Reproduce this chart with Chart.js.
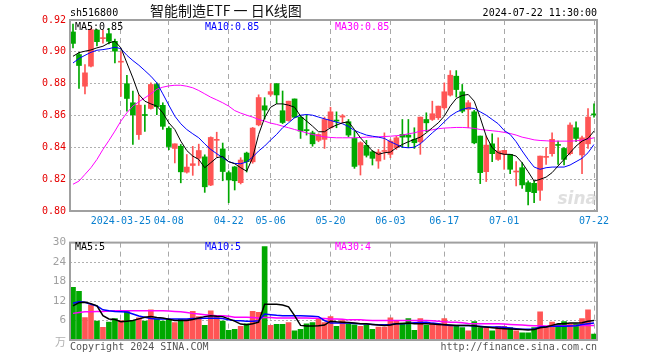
<!DOCTYPE html>
<html>
<head>
<meta charset="utf-8">
<script src="https://cdn.jsdelivr.net/npm/chart.js@4.4.1/dist/chart.umd.min.js"></script>
<style>
  html, body { margin: 0; padding: 0; background: #fff; }
  #wrap { position: relative; width: 660px; height: 360px; }
  #kChart { position: absolute; left: 0; top: 0; }
  #volChart { position: absolute; left: 0; top: 232px; }
</style>
</head>
<body>
<div id="wrap">
  <canvas id="kChart" width="660" height="232"></canvas>
  <canvas id="volChart" width="660" height="128"></canvas>
</div>
<script>
// trading days shown on the chart
const dates = [
  '2024-03-13','2024-03-14','2024-03-15','2024-03-18','2024-03-19','2024-03-20','2024-03-21','2024-03-22',
  '2024-03-25','2024-03-26','2024-03-27','2024-03-28','2024-03-29','2024-04-01','2024-04-02','2024-04-03',
  '2024-04-08','2024-04-09','2024-04-10','2024-04-11','2024-04-12','2024-04-15','2024-04-16','2024-04-17',
  '2024-04-18','2024-04-19','2024-04-22','2024-04-23','2024-04-24','2024-04-25','2024-04-26','2024-04-29',
  '2024-04-30','2024-05-06','2024-05-07','2024-05-08','2024-05-09','2024-05-10','2024-05-13','2024-05-14',
  '2024-05-15','2024-05-16','2024-05-17','2024-05-20','2024-05-21','2024-05-22','2024-05-23','2024-05-24',
  '2024-05-27','2024-05-28','2024-05-29','2024-05-30','2024-05-31','2024-06-03','2024-06-04','2024-06-05',
  '2024-06-06','2024-06-07','2024-06-11','2024-06-12','2024-06-13','2024-06-14','2024-06-17','2024-06-18',
  '2024-06-19','2024-06-20','2024-06-21','2024-06-24','2024-06-25','2024-06-26','2024-06-27','2024-06-28',
  '2024-07-01','2024-07-02','2024-07-03','2024-07-04','2024-07-05','2024-07-08','2024-07-09','2024-07-10',
  '2024-07-11','2024-07-12','2024-07-15','2024-07-16','2024-07-17','2024-07-18','2024-07-19','2024-07-22'
];
const tickDates = ['2024-03-25','2024-04-08','2024-04-22','2024-05-06','2024-05-20','2024-06-03','2024-06-17','2024-07-01','2024-07-22'];

const openP = [
  0.9125,0.8983,0.8784,0.8910,0.9137,0.9083,0.9114,0.9066,0.8935,0.8800,
  0.8680,0.8480,0.8603,0.8644,0.8795,0.8664,0.8520,0.8393,0.8407,0.8244,
  0.8286,0.8332,0.8340,0.8163,0.8444,0.8390,0.8241,0.8277,0.8178,0.8364,
  0.8309,0.8541,0.8661,0.8733,0.8800,0.8630,0.8568,0.8704,0.8589,0.8510,
  0.8491,0.8444,0.8450,0.8523,0.8568,0.8590,0.8561,0.8456,0.8289,0.8412,
  0.8372,0.8314,0.8374,0.8356,0.8398,0.8481,0.8477,0.8450,0.8435,0.8575,
  0.8575,0.8586,0.8648,0.8728,0.8847,0.8749,0.8638,0.8623,0.8471,0.8247,
  0.8422,0.8324,0.8356,0.8356,0.8245,0.8272,0.8178,0.8174,0.8130,0.8337,
  0.8360,0.8415,0.8393,0.8360,0.8523,0.8352,0.8422,0.8607
];
const closeP = [
  0.9053,0.8914,0.8868,0.9139,0.9064,0.9087,0.9066,0.9004,0.8940,0.8707,
  0.8605,0.8665,0.8600,0.8795,0.8655,0.8532,0.8405,0.8422,0.8246,0.8276,
  0.8297,0.8380,0.8152,0.8462,0.8450,0.8248,0.8195,0.8190,0.8320,0.8310,
  0.8521,0.8713,0.8634,0.8750,0.8729,0.8556,0.8690,0.8589,0.8502,0.8505,
  0.8422,0.8481,0.8575,0.8623,0.8565,0.8598,0.8477,0.8280,0.8429,0.8350,
  0.8331,0.8370,0.8377,0.8439,0.8460,0.8464,0.8464,0.8429,0.8590,0.8554,
  0.8611,0.8659,0.8749,0.8853,0.8763,0.8627,0.8680,0.8428,0.8241,0.8414,
  0.8360,0.8377,0.8381,0.8262,0.8249,0.8164,0.8122,0.8115,0.8345,0.8339,
  0.8450,0.8412,0.8324,0.8540,0.8456,0.8460,0.8590,0.8604
];
const highP = [
  0.9175,0.8995,0.8920,0.9150,0.9140,0.9137,0.9148,0.9080,0.9000,0.8853,
  0.8753,0.8730,0.8665,0.8805,0.8805,0.8680,0.8530,0.8422,0.8418,0.8355,
  0.8406,0.8420,0.8353,0.8466,0.8495,0.8427,0.8252,0.8280,0.8335,0.8370,
  0.8525,0.8730,0.8712,0.8800,0.8800,0.8754,0.8690,0.8704,0.8601,0.8606,
  0.8502,0.8485,0.8590,0.8652,0.8623,0.8606,0.8575,0.8502,0.8435,0.8444,
  0.8380,0.8387,0.8491,0.8450,0.8471,0.8575,0.8575,0.8523,0.8590,0.8617,
  0.8690,0.8659,0.8805,0.8882,0.8882,0.8795,0.8694,0.8632,0.8471,0.8471,
  0.8485,0.8460,0.8381,0.8356,0.8310,0.8304,0.8189,0.8189,0.8345,0.8398,
  0.8491,0.8439,0.8398,0.8554,0.8561,0.8471,0.8644,0.8673
];
const lowP = [
  0.9024,0.8770,0.8736,0.8905,0.9037,0.9055,0.9050,0.8930,0.8720,0.8627,
  0.8418,0.8450,0.8500,0.8640,0.8605,0.8513,0.8385,0.8302,0.8177,0.8238,
  0.8224,0.8286,0.8117,0.8159,0.8340,0.8190,0.8052,0.8132,0.8170,0.8245,
  0.8300,0.8535,0.8578,0.8723,0.8675,0.8549,0.8564,0.8585,0.8456,0.8477,
  0.8407,0.8435,0.8393,0.8519,0.8523,0.8554,0.8465,0.8268,0.8226,0.8339,
  0.8289,0.8268,0.8324,0.8335,0.8387,0.8398,0.8398,0.8393,0.8356,0.8498,
  0.8569,0.8575,0.8638,0.8722,0.8716,0.8617,0.8523,0.8422,0.8172,0.8185,
  0.8310,0.8318,0.8262,0.8235,0.8157,0.8142,0.8038,0.8053,0.8066,0.8293,
  0.8345,0.8293,0.8289,0.8352,0.8435,0.8235,0.8393,0.8590
];

const ma5 = [
  0.8972,0.8995,0.9004,0.9012,0.9025,0.9035,0.9056,0.9066,0.9025,0.8930,
  0.8836,0.8732,0.8690,0.8673,0.8659,0.8617,0.8554,0.8512,0.8439,0.8380,
  0.8345,0.8324,0.8272,0.8303,0.8335,0.8343,0.8310,0.8297,0.8272,0.8250,
  0.8335,0.8481,0.8586,0.8652,0.8673,0.8673,0.8665,0.8652,0.8596,0.8565,
  0.8533,0.8498,0.8498,0.8523,0.8540,0.8554,0.8560,0.8512,0.8460,0.8418,
  0.8377,0.8356,0.8366,0.8370,0.8397,0.8418,0.8435,0.8450,0.8464,0.8491,
  0.8523,0.8554,0.8596,0.8659,0.8707,0.8726,0.8732,0.8690,0.8586,0.8470,
  0.8397,0.8366,0.8356,0.8356,0.8345,0.8303,0.8247,0.8188,0.8199,0.8213,
  0.8241,0.8283,0.8324,0.8366,0.8408,0.8439,0.8456,0.8502
];
const ma10 = [
  0.8930,0.8958,0.8978,0.8997,0.9010,0.9014,0.9020,0.9029,0.9020,0.8978,
  0.8945,0.8916,0.8882,0.8847,0.8805,0.8736,0.8665,0.8596,0.8548,0.8512,
  0.8485,0.8460,0.8422,0.8387,0.8360,0.8335,0.8310,0.8299,0.8297,0.8308,
  0.8339,0.8377,0.8408,0.8446,0.8481,0.8523,0.8554,0.8586,0.8602,0.8606,
  0.8602,0.8590,0.8579,0.8569,0.8558,0.8548,0.8531,0.8506,0.8491,0.8477,
  0.8470,0.8464,0.8456,0.8435,0.8418,0.8401,0.8397,0.8401,0.8422,0.8456,
  0.8491,0.8523,0.8560,0.8596,0.8621,0.8638,0.8648,0.8644,0.8623,0.8602,
  0.8575,0.8548,0.8506,0.8481,0.8435,0.8377,0.8324,0.8276,0.8262,0.8272,
  0.8276,0.8276,0.8276,0.8289,0.8310,0.8331,0.8366,0.8418
];
const ma30 = [
  0.8168,0.8188,0.8230,0.8272,0.8324,0.8387,0.8443,0.8502,0.8565,0.8617,
  0.8659,0.8686,0.8711,0.8736,0.8765,0.8778,0.8786,0.8790,0.8790,0.8784,
  0.8774,0.8757,0.8736,0.8715,0.8698,0.8680,0.8659,0.8631,0.8615,0.8602,
  0.8590,0.8575,0.8565,0.8552,0.8544,0.8533,0.8523,0.8512,0.8502,0.8491,
  0.8481,0.8473,0.8466,0.8462,0.8460,0.8460,0.8460,0.8460,0.8462,0.8464,
  0.8464,0.8466,0.8468,0.8470,0.8473,0.8477,0.8485,0.8491,0.8502,0.8506,
  0.8510,0.8517,0.8521,0.8523,0.8525,0.8525,0.8523,0.8519,0.8512,0.8508,
  0.8504,0.8500,0.8494,0.8487,0.8477,0.8464,0.8456,0.8447,0.8443,0.8441,
  0.8439,0.8439,0.8439,0.8439,0.8441,0.8445,0.8452,0.8460
];

// volume, 万手
const volume = [
  16.2,15.0,6.9,10.8,5.8,3.9,5.5,6.6,6.0,8.8,
  6.0,6.8,5.8,9.3,6.4,5.8,6.4,5.4,6.4,6.4,
  8.8,7.2,4.5,9.0,7.4,5.8,3.0,3.3,4.2,5.0,
  8.8,8.5,28.8,4.5,4.8,4.8,5.4,2.8,3.3,5.0,
  5.4,6.5,5.4,7.2,4.2,6.0,5.0,4.7,4.2,4.7,
  3.3,4.0,4.0,6.8,6.0,5.2,6.6,3.0,6.6,4.5,
  5.0,5.0,6.6,4.5,4.2,3.8,2.8,5.7,3.8,3.8,
  2.8,4.2,4.2,3.8,2.8,2.2,2.2,3.8,8.7,4.0,
  5.5,4.8,5.7,5.0,5.0,6.6,9.3,1.8
];
const volMa5 = [
  10.5,11.5,11.6,11.2,10.5,7.5,6.5,6.3,5.6,5.8,
  6.0,6.5,7.0,7.2,6.9,6.8,6.4,6.0,6.0,6.0,
  6.3,6.8,7.2,7.5,7.3,7.2,6.5,5.8,4.9,4.7,
  5.0,5.5,11.0,11.0,11.0,10.8,10.2,7.5,4.5,4.3,
  4.3,4.4,4.6,5.8,5.6,5.5,5.4,5.2,5.0,5.0,
  4.8,4.6,4.5,4.6,5.0,5.1,5.2,5.0,5.0,5.0,
  4.9,4.8,4.7,4.6,4.5,4.5,4.5,4.4,4.1,4.0,
  3.8,3.6,3.5,3.4,3.3,3.2,3.1,3.2,3.8,4.0,
  4.5,5.0,5.0,5.2,5.2,5.3,5.8,6.0
];
const volMa10 = [
  11.3,11.8,11.6,11.0,10.5,9.3,9.0,8.8,8.7,8.6,
  8.0,7.4,7.0,6.6,6.5,6.5,6.5,6.5,6.5,6.5,
  6.6,6.6,6.7,6.7,6.7,6.6,6.2,6.0,5.9,5.8,
  5.8,5.9,8.0,7.8,7.6,7.5,7.5,7.5,7.5,7.4,
  7.3,7.2,6.0,5.2,5.2,5.2,5.2,5.1,5.0,4.9,
  4.8,4.7,4.7,4.8,5.0,5.0,5.1,5.3,5.4,5.5,
  5.2,5.0,4.7,4.5,4.5,4.5,4.5,4.3,4.2,4.0,
  4.0,4.0,3.9,3.7,3.5,3.3,3.3,3.4,4.0,4.1,
  4.2,4.2,4.2,4.3,4.4,4.8,5.0,5.2
];
const volMa30 = [
  8.2,8.5,8.7,8.7,8.8,8.8,8.9,9.0,9.0,9.0,
  9.0,9.0,9.0,9.0,9.0,9.0,8.9,8.8,8.7,8.5,
  8.2,8.0,7.8,7.6,7.5,7.5,7.3,7.0,7.0,7.0,
  6.9,6.8,6.9,6.9,6.8,6.8,6.8,6.8,6.8,6.8,
  6.7,6.7,6.6,6.5,6.5,6.4,6.2,6.2,6.2,6.1,
  6.0,6.0,6.0,6.0,6.0,6.0,6.0,6.0,6.0,6.0,
  5.9,5.8,5.6,5.5,5.5,5.3,5.1,5.0,5.0,5.0,
  5.0,5.0,4.9,4.8,4.7,4.6,4.5,4.4,4.4,4.3,
  4.3,4.3,4.4,4.4,4.5,4.5,4.5,4.5
];

const priceTicks = [0.80, 0.82, 0.84, 0.86, 0.88, 0.90, 0.92];
const volTicks = [0, 6, 12, 18, 24, 30];

const MONO = '"DejaVu Sans Mono", "Liberation Mono", monospace';
const UP = '#ff5555';
const DOWN = '#00a800';
const candleColors = openP.map((o, i) => closeP[i] >= o ? UP : DOWN);

// grey frame plus free texts
const framePlugin = {
  id: 'frame',
  afterDraw(chart, args, opts) {
    const { ctx, chartArea: a } = chart;
    ctx.save();
    ctx.strokeStyle = '#a0a0a0';
    ctx.lineWidth = 2;
    ctx.strokeRect(a.left, a.top, a.right - a.left, a.bottom - a.top);
    (opts.texts || []).forEach(t => {
      ctx.font = t.font || ('10px ' + MONO);
      ctx.fillStyle = t.color || '#000';
      ctx.textAlign = t.align || 'left';
      ctx.textBaseline = 'alphabetic';
      ctx.fillText(t.text, t.x, t.y);
    });
    ctx.restore();
  }
};

function xAxis(showLabels) {
  return {
    type: 'category',
    offset: true,
    grid: {
      offset: false,
      drawTicks: false,
      color: c => tickDates.includes(dates[c.index]) ? '#a8a8a8' : 'rgba(0,0,0,0)'
    },
    border: { display: false, dash: [5, 4] },
    ticks: {
      display: showLabels,
      autoSkip: false,
      maxRotation: 0,
      padding: 4,
      color: '#0a80d0',
      font: { family: MONO, size: 10 },
      callback: (v, i) => {
        const d = dates[i];
        if (!tickDates.includes(d)) return '';
        return d === tickDates[0] ? d : d.slice(5);
      }
    },
    afterFit: s => { s.height = showLabels ? 21 : 20; }
  };
}

const lineSet = (label, data, color, width) => ({
  type: 'line', label, data, borderColor: color, borderWidth: width,
  pointRadius: 0, tension: 0, fill: false
});

new Chart(document.getElementById('kChart'), {
  data: {
    labels: dates,
    datasets: [
      lineSet('MA5', ma5, '#000000', 1),
      lineSet('MA10', ma10, '#0000ff', 1),
      lineSet('MA30', ma30, '#ff00ff', 1),
      {
        type: 'bar', label: 'wick', grouped: false,
        data: lowP.map((l, i) => [l, highP[i]]),
        backgroundColor: candleColors, barThickness: 1, borderWidth: 0
      },
      {
        type: 'bar', label: 'body', grouped: false,
        data: openP.map((o, i) => [o, closeP[i]]),
        backgroundColor: candleColors, barThickness: 5, minBarLength: 1, borderWidth: 0
      }
    ]
  },
  options: {
    responsive: false,
    animation: false,
    layout: { padding: { top: 20, right: 63, bottom: 0, left: 0 } },
    plugins: {
      legend: { display: false },
      tooltip: { enabled: false },
      frame: {
        texts: [
          { text: 'sh516800', x: 70, y: 16 },
          { text: '智能制造ETF 一 日K线图', x: 150, y: 16, font: '14px "Noto Sans CJK SC"', color: '#111' },
          { text: '2024-07-22 11:30:00', x: 597, y: 16, align: 'right' },
          { text: 'MA5:0.85', x: 75, y: 30 },
          { text: 'MA10:0.85', x: 205, y: 30, color: '#0000ff' },
          { text: 'MA30:0.85', x: 335, y: 30, color: '#ff00ff' },
          { text: 'sina', x: 597, y: 204, align: 'right', font: 'italic bold 17px "DejaVu Sans"', color: 'rgba(185,185,185,0.45)' }
        ]
      }
    },
    scales: {
      x: xAxis(true),
      y: {
        min: 0.80, max: 0.92,
        afterBuildTicks: s => { s.ticks = priceTicks.map(v => ({ value: v })); },
        grid: { color: '#b0b0b0', drawTicks: false },
        border: { display: false, dash: [2, 2] },
        ticks: { color: '#e60000', padding: 4, font: { family: MONO, size: 10 }, callback: v => v.toFixed(2) },
        afterFit: s => { s.width = 70; }
      }
    }
  },
  plugins: [framePlugin]
});

new Chart(document.getElementById('volChart'), {
  data: {
    labels: dates,
    datasets: [
      lineSet('MA5', volMa5, '#000000', 1.5),
      lineSet('MA10', volMa10, '#0000ff', 1.5),
      lineSet('MA30', volMa30, '#ff00ff', 1.5),
      {
        type: 'bar', label: 'volume', data: volume,
        backgroundColor: candleColors, barThickness: 5, borderWidth: 0
      }
    ]
  },
  options: {
    responsive: false,
    animation: false,
    layout: { padding: { top: 8, right: 63, bottom: 0, left: 0 } },
    plugins: {
      legend: { display: false },
      tooltip: { enabled: false },
      frame: {
        texts: [
          { text: 'MA5:5', x: 75, y: 18 },
          { text: 'MA10:5', x: 205, y: 18, color: '#0000ff' },
          { text: 'MA30:4', x: 335, y: 18, color: '#ff00ff' },
          { text: '万', x: 66, y: 114, align: 'right', font: '11px "Noto Sans CJK SC"', color: '#b0b0b0' },
          { text: 'Copyright 2024 SINA.COM', x: 70, y: 118, color: '#555' },
          { text: 'http://finance.sina.com.cn', x: 597, y: 118, align: 'right', color: '#555' }
        ]
      }
    },
    scales: {
      x: xAxis(false),
      y: {
        min: 0, max: 30,
        afterBuildTicks: s => { s.ticks = volTicks.map(v => ({ value: v })); },
        grid: { color: '#b0b0b0', drawTicks: false },
        border: { display: false, dash: [2, 2] },
        ticks: { color: '#a0a0a0', padding: 4, font: { family: MONO, size: 11 }, callback: v => v === 0 ? '' : v },
        afterFit: s => { s.width = 70; }
      }
    }
  },
  plugins: [framePlugin]
});
</script>
</body>
</html>
